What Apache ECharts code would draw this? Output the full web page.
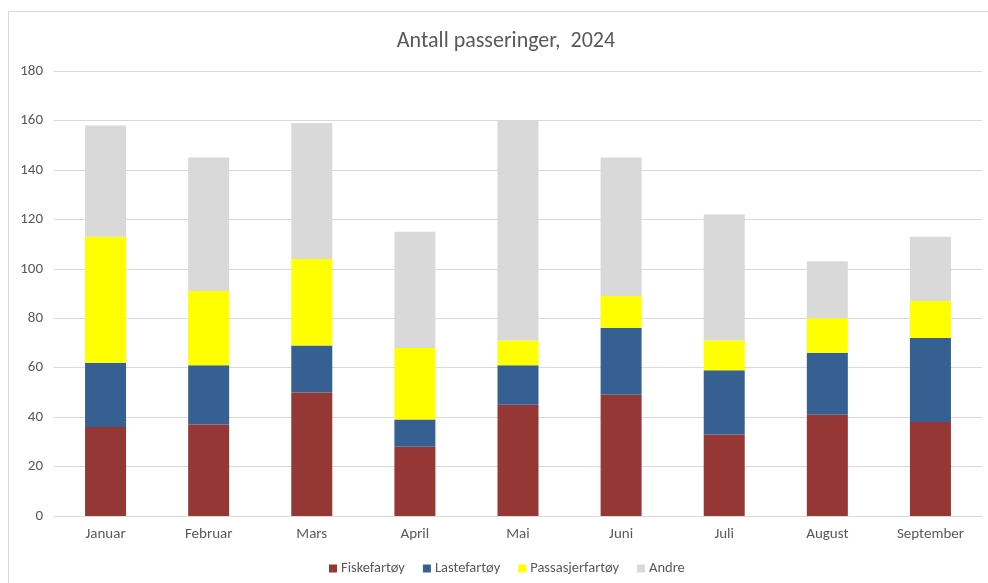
<!DOCTYPE html>
<html>
<head>
<meta charset="utf-8">
<script src="https://cdn.jsdelivr.net/npm/echarts@6/dist/echarts.min.js"></script>
<style>
html,body{margin:0;padding:0;background:#fff;}
#frame{position:absolute;left:8px;top:11px;width:990px;height:590px;border:1px solid #d9d9d9;box-sizing:border-box;}
#chart{position:absolute;left:0;top:0;width:988px;height:583px;}
</style>
</head>
<body>
<div id="frame"></div>
<div id="chart"></div>
<script>
const categories = ['Januar','Februar','Mars','April','Mai','Juni','Juli','August','September'];
const fiskefartoy = [36,37,50,28,45,49,33,41,38];
const lastefartoy = [26,24,19,11,16,27,26,25,34];
const passasjerfartoy = [51,30,35,29,10,13,12,14,15];
const andre = [45,54,55,47,89,56,51,23,26];
const yTicks = {min:0, max:180, interval:20};

const chart = echarts.init(document.getElementById('chart'));
const font = 'Calibri, Carlito, "Open Sans", "Noto Sans", sans-serif';
function bar(name, data, color){
  return {name, type:'bar', stack:'total', data, barWidth:41,
    itemStyle:{color}, emphasis:{disabled:true}};
}
chart.setOption({
  animation:false,
  title:{text:'Antall passeringer,  2024', left:501, textAlign:'center', top:25,
    textStyle:{color:'#595959', fontSize:22, fontWeight:'normal', fontFamily:font}},
  legend:{bottom:2, left:324, itemWidth:8, itemHeight:8, itemGap:18, icon:'rect',
    textStyle:{color:'#595959', fontSize:14.5, fontFamily:font, padding:[0,0,0,-1]}},
  grid:{left:54, right:6, top:71, bottom:67, containLabel:false},
  xAxis:{type:'category', data:categories,
    axisLine:{lineStyle:{color:'#d9d9d9', width:1}}, axisTick:{show:false},
    axisLabel:{color:'#595959', fontSize:15, fontFamily:font, margin:11}},
  yAxis:{type:'value', min:yTicks.min, max:yTicks.max, interval:yTicks.interval,
    axisLine:{show:false}, axisTick:{show:false},
    splitLine:{lineStyle:{color:'#d9d9d9', width:1}},
    axisLabel:{color:'#595959', fontSize:15, fontFamily:font, margin:11}},
  series:[
    bar('Fiskefartøy', fiskefartoy, '#953735'),
    bar('Lastefartøy', lastefartoy, '#366092'),
    bar('Passasjerfartøy', passasjerfartoy, '#ffff00'),
    bar('Andre', andre, '#d9d9d9')
  ]
});
</script>
</body>
</html>
